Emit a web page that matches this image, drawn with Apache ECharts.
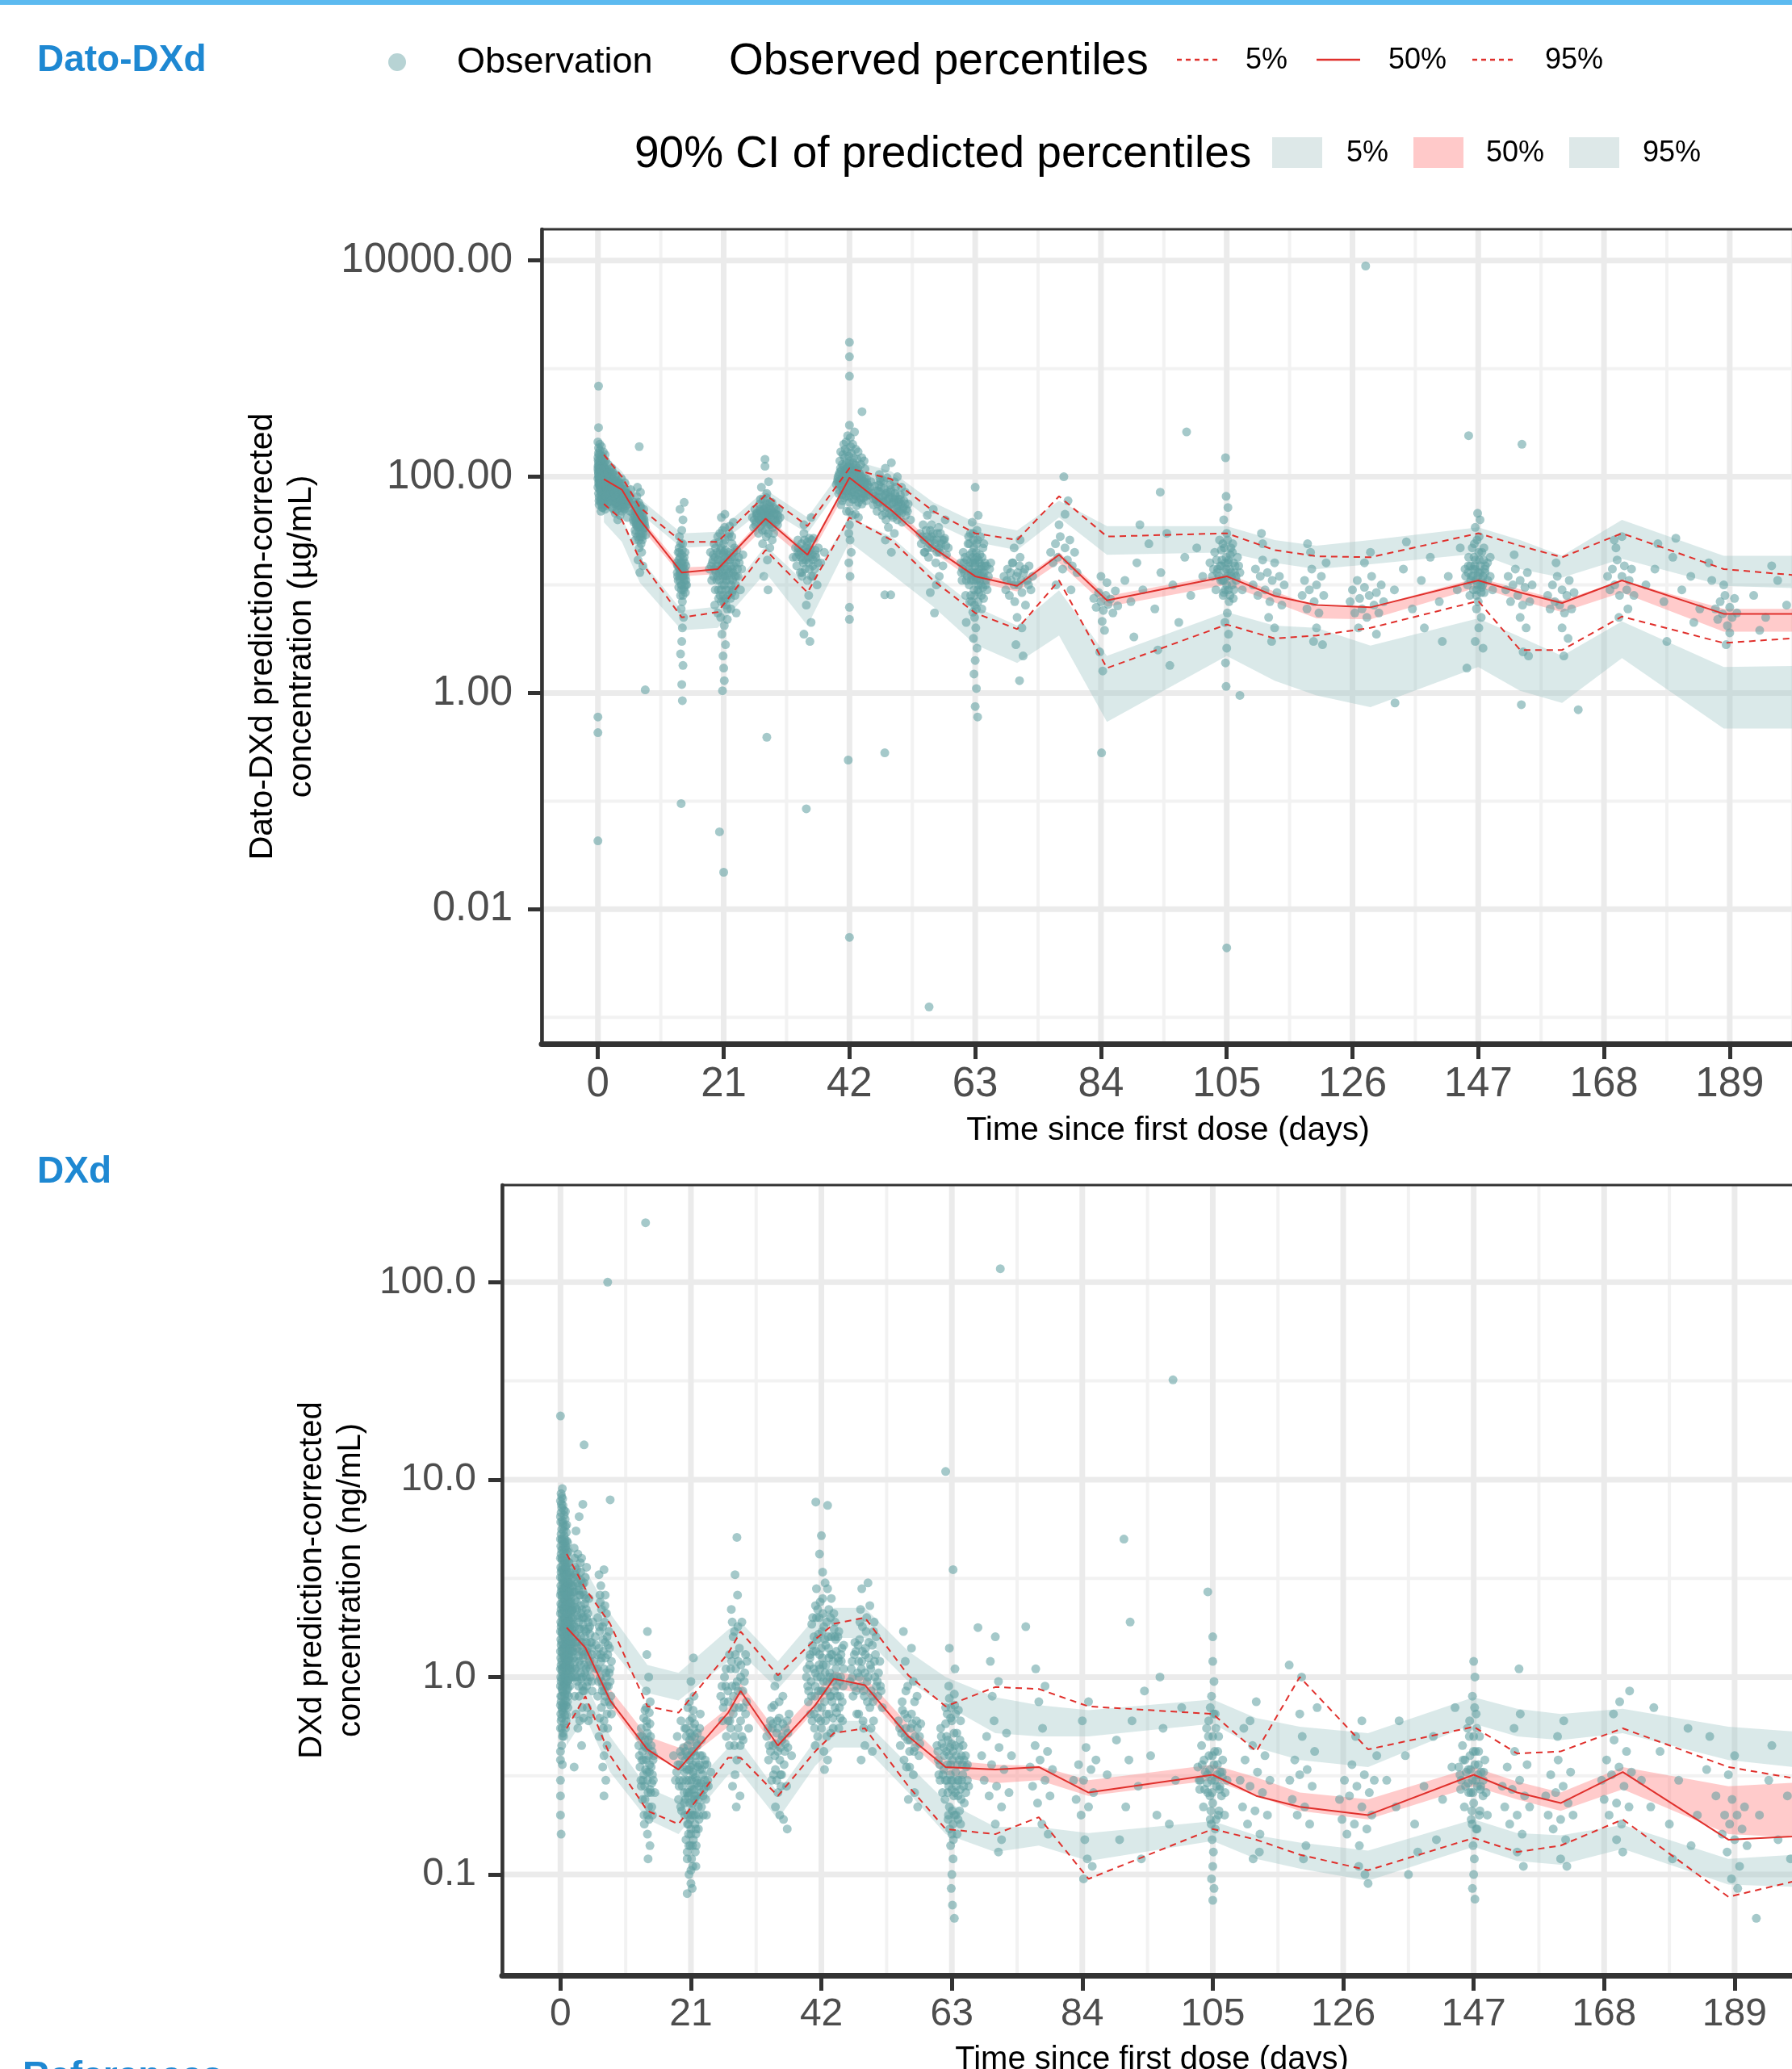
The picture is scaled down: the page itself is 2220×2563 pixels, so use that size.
<!DOCTYPE html>
<html>
<head>
<meta charset="utf-8">
<title>Dato-DXd / DXd prediction-corrected VPC</title>
<script src="https://cdn.jsdelivr.net/npm/echarts@6.0.0/dist/echarts.min.js"></script>
<style>
html,body{margin:0;padding:0;background:#fff;}
#chart{width:2220px;height:2563px;}
</style>
</head>
<body>
<div id="chart"></div>
<script>
// ---- axes ----
var xTicks = [0, 21, 42, 63, 84, 105, 126, 147, 168, 189];
var xMinor = [10.5, 31.5, 52.5, 73.5, 94.5, 115.5, 136.5, 157.5, 178.5, 199.5];
var X_MIN = -9.4, X_MAX = 199.8;

var datoTicks = [0.01, 1, 100, 10000];
var datoMinor = [0.001, 0.1, 10, 1000];
var datoRange = [-3.244, 4.289];   // log10 limits of the panel
var dxdTicks = [0.1, 1, 10, 100];
var dxdMinor = [0.3162, 3.162, 31.62];
var dxdRange = [-1.511, 2.492];

// ---- Dato-DXd (ug/mL): bins and percentiles ----
var datoBins   = [1, 4, 7, 14, 20, 28, 35, 42, 49, 56, 63, 70, 77, 85, 105, 113, 120, 129, 147, 154, 161, 171, 188, 206];
var datoObs5   = [56, 40, 17, 5.0, 5.6, 21, 8.5, 42, 26, 11, 5.5, 3.9, 11, 1.7, 4.3, 3.2, 3.4, 4.0, 7.1, 2.5, 2.5, 5.1, 2.9, 3.4];
var datoObs50  = [95, 76, 40, 13, 14, 41, 19, 98, 49, 22, 12, 9.8, 19, 7.2, 12, 7.9, 6.5, 6.2, 11, 8.5, 6.8, 11, 5.4, 5.4];
var datoObs95  = [160, 100, 52, 25, 25, 68, 35, 120, 95, 48, 30, 26, 66, 28, 30, 21, 18.4, 18, 30, 23, 18, 30, 14, 11.5];
var datoPi5Lo  = [38, 25, 10.5, 3.8, 4.0, 13, 4.2, 25, 12.6, 6.3, 2.8, 1.9, 3.4, 0.54, 2.2, 1.3, 0.95, 0.74, 1.74, 1.05, 0.81, 2.1, 0.47, 0.47];
var datoPi5Hi  = [60, 42, 17.8, 5.8, 6.3, 23, 10, 42, 28, 12.6, 6.3, 4.2, 8.9, 2.2, 5.6, 4.2, 4.0, 2.75, 4.9, 3.3, 2.2, 4.6, 1.74, 1.8];
var datoPi50Lo = [85, 68, 35, 12, 12.6, 35, 16.6, 83, 44, 20, 10.7, 8.7, 16, 6.3, 10, 6.9, 4.9, 4.8, 9.5, 7.2, 5.6, 8.5, 3.7, 3.7];
var datoPi50Hi = [100, 79, 43, 14.5, 15, 44, 20, 102, 54, 24.5, 12.9, 10.5, 20, 7.9, 12.6, 8.7, 6.3, 6.2, 11.7, 9.1, 7.2, 11, 6.0, 6.0];
var datoPi95Lo = [112, 79, 46, 22, 23, 52, 30, 105, 76, 38, 25, 21, 42, 19, 20, 16, 14, 15.5, 19.5, 14, 11.7, 17.4, 9.8, 9.1];
var datoPi95Hi = [160, 112, 63, 30, 31, 76, 42, 145, 112, 58, 38, 32, 60, 35, 35, 26, 23, 26, 34, 26, 18.6, 40, 18.6, 18.6];

// ---- DXd (ng/mL): bins and percentiles ----
var dxdBins   = [1, 4, 8, 14, 19, 27, 29, 35, 41, 44, 49, 56, 62, 70, 77, 85, 105, 112, 119, 130, 147, 154, 161, 171, 188, 206];
var dxdObs5   = [0.55, 0.80, 0.40, 0.21, 0.18, 0.39, 0.39, 0.25, 0.42, 0.52, 0.55, 0.28, 0.17, 0.16, 0.195, 0.095, 0.17, 0.15, 0.126, 0.105, 0.153, 0.13, 0.14, 0.19, 0.077, 0.105];
var dxdObs50  = [1.78, 1.41, 0.76, 0.43, 0.34, 0.66, 0.85, 0.45, 0.72, 0.98, 0.91, 0.50, 0.35, 0.34, 0.35, 0.26, 0.32, 0.25, 0.22, 0.20, 0.32, 0.26, 0.23, 0.33, 0.15, 0.16];
var dxdObs95  = [4.2, 2.8, 1.86, 0.71, 0.66, 1.32, 1.7, 1.02, 1.55, 1.86, 2.0, 1.02, 0.71, 0.89, 0.87, 0.71, 0.65, 0.42, 1.0, 0.43, 0.56, 0.41, 0.42, 0.55, 0.35, 0.28];
var dxdPi5Lo  = [0.45, 0.63, 0.33, 0.19, 0.16, 0.32, 0.33, 0.19, 0.355, 0.44, 0.44, 0.26, 0.16, 0.13, 0.14, 0.117, 0.148, 0.12, 0.107, 0.093, 0.138, 0.117, 0.112, 0.135, 0.089, 0.085];
var dxdPi5Hi  = [0.71, 0.95, 0.50, 0.275, 0.235, 0.44, 0.47, 0.26, 0.48, 0.60, 0.60, 0.36, 0.235, 0.174, 0.174, 0.162, 0.186, 0.158, 0.145, 0.132, 0.19, 0.162, 0.158, 0.178, 0.12, 0.13];
var dxdPi50Lo = [1.51, 1.2, 0.72, 0.40, 0.355, 0.56, 0.76, 0.42, 0.68, 0.87, 0.83, 0.47, 0.32, 0.29, 0.30, 0.25, 0.30, 0.25, 0.21, 0.19, 0.28, 0.24, 0.21, 0.27, 0.16, 0.15];
var dxdPi50Hi = [1.9, 1.51, 0.87, 0.50, 0.44, 0.70, 0.93, 0.52, 0.83, 1.07, 1.0, 0.575, 0.38, 0.36, 0.355, 0.30, 0.36, 0.31, 0.26, 0.24, 0.35, 0.295, 0.26, 0.35, 0.28, 0.30];
var dxdPi95Lo = [3.2, 2.3, 1.41, 0.83, 0.76, 1.2, 1.32, 0.87, 1.41, 1.58, 1.58, 0.95, 0.72, 0.52, 0.50, 0.50, 0.58, 0.44, 0.38, 0.35, 0.58, 0.50, 0.48, 0.52, 0.38, 0.33];
var dxdPi95Hi = [5.0, 3.5, 2.1, 1.15, 1.05, 1.74, 1.9, 1.2, 2.0, 2.24, 2.24, 1.35, 1.0, 0.79, 0.72, 0.68, 0.77, 0.62, 0.56, 0.52, 0.79, 0.69, 0.65, 0.69, 0.56, 0.51];

// ---- observations [day, concentration] ----
var datoPoints = [
 [0,150],[0,118],[0,96],[0,80],[0.1,135],[0.1,105],[0.1,88],[0.1,70],[0.2,160],[0.2,125],[0.2,100],[0.2,84],[0.2,65],[0.3,140],[0.3,112],[0.3,92],[0.3,76],[0.4,130],[0.4,98],[0.4,82],[0.4,60],[0.5,145],[0.5,108],[0.5,90],[0.5,72],[0.6,120],[0.6,95],[0.6,78],[0.6,56],[0.7,132],[0.7,102],[0.7,86],[0.7,68],[0.8,115],[0.8,92],[0.8,74],[0.9,126],[0.9,99],[0.9,80],[0.9,62],[1.0,110],[1.0,88],[1.0,70],[1.1,118],[1.1,94],[1.1,76],[1.2,104],[1.2,84],[1.2,64],[1.3,112],[1.3,90],[1.3,72],[1.4,98],[1.4,78],[1.5,106],[1.5,86],[1.5,66],[1.6,92],[1.6,74],[0.1,185],[0.3,175],[0,210],[0.1,285],[0.1,690],[0.5,48],[0.8,52],[1.2,50],[0,0.6],[0,0.43],[0,0.043],
 [2.0,96],[2.0,74],[2.2,86],[2.2,64],[2.4,92],[2.4,70],[2.6,80],[2.6,60],[2.8,88],[2.8,68],[3.0,76],[3.0,56],[3.2,84],[3.2,65],[3.4,72],[3.4,54],[3.6,80],[3.6,62],[3.8,70],[3.8,52],[4.0,78],[4.0,58],[4.2,66],[4.4,74],[4.4,50],[4.6,62],[4.8,70],[5.0,56],[5.2,64],[5.4,48],[2.5,110],[3.1,104],[3.9,96],[4.5,88],[2.9,46],[3.7,44],[4.9,42],[5.5,76],[2.3,120],[3.3,40],
 [5.8,46],[6.0,38],[6.0,55],[6.2,42],[6.2,32],[6.4,50],[6.4,36],[6.6,44],[6.6,28],[6.8,40],[6.8,58],[7.0,34],[7.0,46],[7.2,30],[7.2,52],[7.4,38],[7.4,26],[7.6,42],[7.6,33],[7.8,36],[8.0,29],[6.5,66],[7.1,72],[6.9,22],[7.3,20],[6.7,17],[7.5,15],[7.0,13],[6.6,80],[6.9,190],[7.9,1.07],[7.2,24],
 [13.2,16],[13.3,12],[13.4,20],[13.5,9.5],[13.6,14],[13.7,18],[13.7,11],[13.8,24],[13.8,8],[13.9,13],[14.0,16],[14.0,10],[14.1,21],[14.1,7],[14.2,12],[14.2,15],[14.3,9],[14.4,18],[14.4,11],[14.5,13],[14.6,8.5],[14.7,15],[14.8,10],[13.6,28],[14.0,32],[14.2,40],[13.9,6],[14.3,5],[14.1,4],[14.0,3],[13.8,2.3],[14.2,1.8],[14.0,1.2],[14.1,0.85],[13.9,0.095],[13.7,50],[14.4,58],
 [18.6,14],[18.8,20],[19.0,11],[19.2,17],[19.4,24],[19.6,9],[19.8,15],[20.0,12],[20.0,28],[20.2,19],[20.4,8],[20.4,14],[20.6,22],[20.8,10],[20.8,32],[21.0,16],[21.0,7],[21.2,12],[21.2,26],[21.4,18],[21.4,9],[21.6,14],[21.6,6],[21.8,20],[22.0,11],[22.0,35],[22.2,15],[22.4,8.5],[22.4,24],[22.6,13],[22.8,18],[23.0,10],[23.2,21],[23.4,12],[23.6,16],[23.8,9],[24.0,14],[24.2,19],[20.5,5],[21.1,4.2],[20.7,3.5],[21.3,2.8],[20.9,2.2],[21.0,1.7],[21.1,1.3],[20.8,1.05],[21.2,45],[20.6,42],[22.6,38],[20.3,0.052],[21.0,0.022],[19.5,6.5],[23.1,5.5],
 [25.8,42],[26.0,34],[26.2,50],[26.4,38],[26.6,46],[26.8,30],[27.0,56],[27.0,40],[27.2,35],[27.4,48],[27.6,62],[27.6,38],[27.8,44],[28.0,52],[28.0,32],[28.2,70],[28.2,40],[28.4,46],[28.6,36],[28.8,58],[28.8,42],[29.0,48],[29.2,34],[29.4,52],[29.6,40],[29.8,45],[30.0,36],[30.2,50],[30.4,42],[27.3,80],[28.5,90],[27.9,145],[27.9,125],[28.1,28],[27.5,24],[28.7,22],[28.3,17],[27.7,12],[28.4,9],[28.2,0.39],[29.1,26],
 [32.6,18],[33.0,22],[33.2,15],[33.4,26],[33.6,19],[33.8,13],[34.0,24],[34.2,17],[34.4,30],[34.6,14],[34.8,20],[35.0,11],[35.0,25],[35.2,16],[35.4,22],[35.6,12],[35.8,19],[36.0,27],[36.2,14],[36.4,18],[36.6,10],[36.8,22],[37.2,16],[37.8,20],[34.4,36],[35.6,42],[35.2,8],[34.8,6.5],[35.6,4.5],[34.4,3.5],[35.4,3],[34.8,0.085],
 [40.0,90],[40.2,70],[40.4,110],[40.6,82],[40.8,130],[40.8,60],[41.0,100],[41.0,76],[41.2,150],[41.2,88],[41.4,118],[41.4,66],[41.6,96],[41.6,170],[41.8,80],[41.8,125],[42.0,105],[42.0,140],[42.0,58],[42.2,92],[42.2,190],[42.4,115],[42.4,72],[42.6,98],[42.6,135],[42.8,84],[42.8,62],[43.0,110],[43.0,78],[43.2,95],[43.2,54],[43.4,120],[43.4,70],[43.6,88],[43.8,102],[43.8,64],[44.0,80],[44.2,92],[44.4,70],[44.6,86],[44.8,60],[45.0,75],[45.2,68],[41.5,48],[42.5,44],[43.5,42],[42.0,36],[41.9,30],[42.1,26],[42.3,20],[41.7,240],[42.0,300],[44.1,400],[42.0,850],[42.0,1290],[42.0,1750],[41.8,0.24],[42.0,0.0055],[42.0,6.2],[42.0,4.8],[42.1,12],[41.9,16],
 [45.8,70],[46.0,55],[46.2,82],[46.4,62],[46.6,48],[46.8,74],[47.0,58],[47.2,90],[47.4,52],[47.6,66],[47.8,78],[48.0,46],[48.2,60],[48.4,72],[48.6,54],[48.8,84],[49.0,44],[49.2,64],[49.4,50],[49.6,70],[49.8,58],[50.0,40],[50.2,62],[50.4,48],[50.6,56],[50.8,38],[51.0,52],[51.4,44],[51.8,56],[52.2,40],[47.0,105],[48.0,120],[49.0,135],[50.0,100],[48.5,34],[49.5,30],[48.0,26],[49.0,20],[47.9,0.28],[47.9,8.1],[48.9,8.1],
 [53.8,30],[54.0,24],[54.3,36],[54.6,20],[54.9,28],[55.2,18],[55.5,32],[55.8,22],[56.1,26],[56.4,16],[56.7,30],[57.0,20],[57.3,24],[57.6,15],[57.9,27],[58.2,19],[58.5,22],[55.0,44],[56.0,50],[57.0,12],[56.5,10],[55.5,8.5],[58.0,40],[55.3,0.00125],[56.2,5.5],
 [60.6,16],[60.8,11],[61.0,20],[61.2,13],[61.4,8],[61.6,17],[61.8,24],[62.0,10],[62.0,14],[62.2,30],[62.4,12],[62.4,7],[62.6,18],[62.8,9],[62.8,22],[63.0,13],[63.0,16],[63.2,6],[63.2,11],[63.4,26],[63.6,14],[63.6,8.5],[63.8,19],[64.0,10],[64.2,13],[64.4,7.5],[64.6,16],[64.8,11],[65.0,9],[65.4,14],[62.5,38],[63.5,44],[62.9,5],[63.1,4],[62.7,3.2],[63.3,2.6],[63.0,2],[62.8,1.5],[63.2,1.1],[63.0,0.75],[63.4,0.6],[62.6,5.6],[61.5,4.5],[63,80],
 [67.8,12],[68.1,9],[68.4,14],[68.7,8],[69.0,11],[69.3,16],[69.6,7],[69.9,12],[70.2,10],[70.5,18],[70.8,8.5],[71.1,13],[71.4,6.5],[71.7,11],[72.0,15],[72.3,9],[72.6,12],[69.5,22],[70.5,26],[70.0,5],[70.8,4],[69.8,2.8],[71.0,2.2],[70.4,1.3],
 [75.6,20],[76.0,16],[76.4,24],[76.8,18],[77.2,28],[77.6,14],[78.0,22],[78.4,17],[78.8,26],[79.2,15],[79.6,20],[80.0,13],[77.0,36],[78.0,45],[78.5,60],[76.5,10],[79.0,9],[77.8,100],
 [82.8,7.5],[83.2,6.2],[83.6,8.5],[84.0,7],[84.4,5.8],[84.8,8],[85.2,6.6],[85.6,7.4],[86.0,5.5],[86.4,8.8],[86.8,6.4],[84.2,4.6],[85.0,10.5],[84.6,3.8],[84.0,12],[83.8,2.4],[84.1,0.28],[84.3,1.6],
 [88,11],[89,7],[90,16],[91,9],[92,24],[93,6],[94,13],[95,30],[96,10],[97,4.5],[98,18],[99,8],[100,22],[101,12],[90.5,36],[93.5,2.5],[98.3,260],[95.5,1.8],[89.5,3.3],[93.9,72],
 [102.2,16],[102.6,12],[103.0,20],[103.2,9],[103.5,14],[103.8,26],[104.0,11],[104.2,17],[104.4,8],[104.6,22],[104.8,13],[105.0,30],[105.0,10],[105.2,16],[105.4,7],[105.6,19],[105.8,12],[106.0,24],[106.2,9],[106.4,15],[106.6,11],[106.8,18],[107.2,13],[107.6,9],[104.5,40],[105.2,52],[104.9,66],[105.1,5.5],[104.7,4.5],[105.3,3.5],[105.0,2.6],[104.8,1.9],[104.9,1.15],[107.2,0.95],[105.0,0.0044],[104.8,150],
 [109.4,10],[109.8,14],[110.2,8],[110.6,12],[111.0,17],[111.4,9],[111.8,13],[112.2,7],[112.6,11],[113.0,16],[113.4,8.5],[113.8,12],[114.2,6.5],[114.6,10],[111.0,24],[112.0,5],[113.0,4],[110.8,30],[112.5,3],
 [117.6,8],[118.0,11],[118.4,6],[118.8,9],[119.2,14],[119.6,7],[120.0,10],[120.4,5.5],[120.8,12],[121.2,8],[121.6,16],[119.0,20],[120.0,4],[119.5,3],[118.5,24],[121.0,2.8],
 [125.6,7],[126.0,9],[126.4,5.5],[126.8,11],[127.2,7.5],[127.6,6],[128.0,9.5],[128.4,5],[128.8,8],[129.2,12],[129.6,6.5],[130.0,8.5],[130.4,5.5],[130.8,10],[131.2,7],[128.0,16],[129.0,20],[127.0,4],[130.0,3.5],[128.2,8900],
 [133,9],[134.5,14],[136,6],[137.5,11],[139,18],[140.5,7],[142,12],[143.5,9],[135,25],[138,4],[141,3],[144,22],[133.1,0.81],
 [144.8,14],[145.2,10],[145.4,18],[145.6,8],[145.8,12],[146.0,22],[146.2,9],[146.4,15],[146.6,11],[146.8,26],[147.0,13],[147.0,7],[147.2,17],[147.4,10],[147.6,20],[147.8,12],[148.0,8.5],[148.2,15],[148.6,11],[149.0,18],[149.4,9],[146.5,34],[147.3,40],[146.9,46],[146.7,6],[147.5,5],[147.1,4],[146.5,3],[147.8,2.6],[145.1,1.7],[145.4,240],
 [151.6,9],[152.0,12],[152.4,7],[152.8,10],[153.2,14],[153.6,8],[154.0,11],[154.4,6.5],[154.8,9.5],[155.2,13],[155.6,7],[156.0,10],[153.0,19],[154.0,5],[155.0,4],[154.5,2.4],[154.3,200],[154.2,0.78],[155.4,2.2],
 [158.6,8],[159.0,6],[159.4,10],[159.8,7],[160.2,12],[160.6,6.5],[161.0,9],[161.4,5.5],[161.8,8],[162.2,11],[162.6,6],[163.0,8.5],[160.0,16],[161.0,4],[162.0,3.2],[161.3,2.2],[163.7,0.7],
 [168.6,12],[169.0,9],[169.4,14],[169.8,10],[170.2,17],[170.6,8],[171.0,12],[171.4,15],[171.8,9],[172.2,11],[172.6,14],[173.0,8],[170.0,22],[171.0,28],[172.0,6],[170.5,5],[169.7,26],
 [175,10],[176.5,14],[178,7],[179.5,18],[181,9],[182.5,12],[184,6],[185.5,16],[177,24],[180,27],[183,4.5],[186,11],[178.5,3],
 [186.6,6],[187.0,4.8],[187.4,7],[187.8,5.4],[188.2,8],[188.6,4.2],[189.0,6.2],[189.4,5],[189.8,7.5],[190.2,5.5],[188.0,10],[189.0,3.6],[188.4,2.8],
 [193,8],[195,5],[197,11],[198.5,6.5],[196,15],[194,3.8]
];
// denser cores of the main sampling visits
var datoCore = [
 [0.05,142],[0.15,128],[0.25,116],[0.35,104],[0.45,94],[0.55,86],[0.65,78],[0.75,71],[0.85,64],[0.95,58],[0.05,112],[0.15,99],[0.25,89],[0.35,81],[0.45,74],[0.55,67],[0.65,61],[0.75,155],[0.85,138],[0.95,122],[1.05,107],[1.15,97],[1.25,87],[1.35,79],[1.45,71],[1.55,64],[1.65,58],[1.75,100],[1.85,88],[1.95,78],[1.05,135],[1.15,122],[1.25,68],[1.35,62],[1.45,115],[1.55,104],[1.65,95],[1.75,69],[1.85,62],[1.95,110],[0.3,200],[0.6,190],[0.9,170],[1.2,160],[0.2,55],[0.7,52],[1.0,60],[1.4,54],[1.7,82],[1.9,96],
 [2.1,82],[2.3,74],[2.5,66],[2.7,76],[2.9,58],[3.1,70],[3.3,62],[3.5,88],[3.7,66],[3.9,58],[4.1,72],[4.3,60],[4.5,68],[4.7,54],[4.9,64],[2.2,100],[2.6,94],[3.0,90],[3.4,82],[3.8,78],[4.2,82],[4.6,76],[5.0,70],[5.3,58],[2.4,52],[2.8,56],[3.2,50],[3.6,54],[4.0,48],[4.4,56],
 [6.1,48],[6.3,40],[6.5,35],[6.7,48],[6.9,44],[7.1,38],[7.3,43],[7.5,30],[7.7,40],[7.9,34],[6.3,30],[6.7,34],[7.1,28],[7.5,46],[6.1,58],[6.5,42],[7.3,36],[6.9,30],
 [13.3,15],[13.5,17],[13.7,13],[13.9,10],[14.1,14],[14.3,12],[14.5,16],[14.7,11],[13.4,11],[13.6,20],[14.0,19],[14.4,9.5],[14.6,12],[13.8,16],[14.2,8],
 [19.1,16],[19.3,12],[19.5,18],[19.7,13],[19.9,20],[20.1,9],[20.1,15],[20.3,11],[20.5,17],[20.7,13],[20.9,19],[21.1,10],[21.1,14],[21.3,21],[21.5,12],[21.7,17],[21.9,9],[22.1,13],[22.3,18],[22.5,11],[22.7,15],[22.9,8],[23.1,12],[20.2,25],[21.0,24],[21.8,28],[20.6,7],[21.4,6.5],[22.2,6],[20.0,5.5],[21.6,4.8],[22.8,22],
 [26.5,44],[26.9,40],[27.3,46],[27.7,50],[28.1,42],[28.3,48],[28.5,38],[28.7,46],[28.9,36],[29.3,44],[29.7,50],[27.1,48],[27.9,38],[28.6,54],[26.3,36],[30.1,40],
 [33.4,20],[33.9,18],[34.3,21],[34.7,17],[35.1,20],[35.5,18],[35.9,15],[36.3,21],[34.1,13],[35.3,14],[34.9,23],[35.7,26],
 [40.1,100],[40.3,85],[40.5,120],[40.7,95],[40.9,75],[41.1,112],[41.3,92],[41.5,135],[41.7,106],[41.9,88],[42.1,120],[42.3,100],[42.5,82],[42.7,112],[42.9,95],[43.1,128],[43.3,86],[43.5,104],[43.7,80],[43.9,92],[44.1,70],[44.3,84],[44.5,98],[44.7,74],[44.9,88],[40.4,140],[40.9,160],[41.3,180],[41.9,155],[42.3,165],[42.7,150],[43.3,145],[43.9,130],[44.6,118],[41.1,64],[41.7,70],[42.1,75],[42.5,62],[42.9,68],[43.5,58],[44.1,56],[40.6,55],[42.0,48],[43.0,45],[45.4,80],[45.6,90],
 [46.3,66],[46.7,56],[47.1,72],[47.5,60],[47.9,68],[48.3,52],[48.7,64],[49.1,56],[49.5,62],[49.9,52],[50.3,58],[50.7,46],[51.1,60],[51.5,50],[46.9,84],[47.7,92],[48.9,76],[49.7,80],[50.5,68],[51.3,72],[48.1,40],[49.3,42],[50.1,48],
 [54.5,26],[55.1,22],[55.7,28],[56.3,24],[56.9,22],[57.5,26],[58.1,23],[55.4,27],[56.6,20],[57.2,30],
 [60.9,14],[61.3,18],[61.7,12],[62.1,16],[62.3,11],[62.5,20],[62.7,13],[62.9,17],[63.1,12],[63.3,18],[63.5,10],[63.7,16],[63.9,12],[64.1,15],[64.3,9.5],[64.5,13],[64.9,15],[62.1,7],[62.9,6.5],[63.5,7],[64.1,6],[61.9,28],[62.7,26],[63.3,32],[64.3,22],
 [103.4,13],[103.9,15],[104.3,11],[104.7,16],[105.1,12],[105.5,14],[105.9,10],[106.3,13],[104.1,21],[104.9,18],[105.7,22],[104.5,8.5],[105.3,9],[106.1,7.5],
 [145.3,13],[145.7,15],[146.1,12],[146.5,14],[146.9,10],[147.3,13],[147.7,11],[148.1,14],[146.3,18],[147.1,20],[147.9,17],[146.7,8],[147.5,8.5],
 [0.02,125],[0.12,108],[0.22,94],[0.32,85],[0.42,118],[0.52,100],[0.62,88],[0.72,112],[0.82,97],[0.92,85],[1.02,120],[1.12,102],[1.22,92],[1.32,84],[1.42,90],[1.52,78],[1.62,108],[1.72,90],[1.82,76],[1.92,68],[2.02,84],[2.12,72],[2.32,80],[2.52,86],[2.72,70],[2.92,80],[3.12,62],[3.32,74],[3.52,68],[3.72,76],[3.92,64],[4.12,70],[4.32,66],[4.52,60],[4.72,70],[0.08,165],[0.48,158],[0.88,148],[1.28,140],[1.68,130],[2.08,118],[2.48,106],[2.88,100],[3.28,92],[3.68,88],[0.18,60],[0.58,62],[0.98,56],[1.38,66],[1.78,58],[2.18,60],[2.58,50],[2.98,64],[3.38,58],[3.78,60],[4.18,52],[4.58,50],[5.1,60],[5.4,66],
 [5.9,40],[6.15,44],[6.35,38],[6.55,46],[6.75,36],[6.95,42],[7.15,36],[7.35,40],[7.55,34],[7.75,38],[6.25,26],[6.85,26],[7.45,28],[6.45,56],[7.05,54],[7.65,50],
 [13.25,13],[13.45,15],[13.65,12],[13.85,14],[14.05,12],[14.25,17],[14.45,14],[14.65,10],[13.55,22],[14.15,24],[14.55,20],[13.95,9],
 [18.9,15],[19.25,19],[19.45,14],[19.65,22],[19.85,11],[20.05,17],[20.25,13],[20.45,21],[20.65,16],[20.85,12],[21.05,20],[21.25,15],[21.45,11],[21.65,19],[21.85,13],[22.05,17],[22.25,10],[22.45,14],[22.65,20],[22.85,12],[23.05,16],[23.3,14],[23.5,18],[20.15,7.5],[20.55,9],[20.95,8],[21.35,7.5],[21.75,8],[22.15,7.5],[22.55,9],[20.35,30],[21.15,34],[21.95,30],[22.35,28],
 [26.1,40],[26.45,46],[26.75,42],[27.05,50],[27.35,42],[27.65,54],[27.95,46],[28.25,56],[28.55,44],[28.85,50],[29.15,40],[29.45,46],[29.75,38],[30.05,44],[27.15,62],[28.15,64],[29.05,58],[27.45,32],[28.45,30],[29.35,30],
 [33.1,18],[33.5,22],[33.9,20],[34.3,16],[34.7,22],[35.1,18],[35.5,21],[35.9,17],[36.3,19],[36.7,16],[34.5,26],[35.3,27],[34.1,12],[35.9,12],
 [39.8,85],[40.05,95],[40.25,105],[40.45,92],[40.65,115],[40.85,98],[41.05,125],[41.25,108],[41.45,90],[41.65,118],[41.85,100],[42.05,130],[42.25,110],[42.45,95],[42.65,122],[42.85,104],[43.05,90],[43.25,115],[43.45,97],[43.65,108],[43.85,86],[44.05,100],[44.25,78],[44.45,90],[44.65,76],[44.85,96],[45.05,84],[45.25,72],[40.35,75],[40.75,68],[41.15,80],[41.55,74],[41.95,66],[42.35,84],[42.75,72],[43.15,66],[43.55,76],[43.95,62],[44.35,64],[44.75,66],[40.55,170],[41.05,200],[41.45,210],[42.15,230],[42.55,200],[43.05,180],[43.45,170],[44.05,150],[44.45,140],[42.85,260],
 [46.1,62],[46.5,74],[46.9,64],[47.3,80],[47.7,58],[48.1,70],[48.5,62],[48.9,72],[49.3,58],[49.7,66],[50.1,54],[50.5,62],[50.9,50],[51.3,56],[51.7,48],[47.1,96],[48.3,98],[49.5,90],[50.7,80],[47.5,44],[48.7,46],[49.9,44],
 [54.2,28],[54.8,32],[55.4,24],[56.0,30],[56.6,26],[57.2,22],[57.8,26],[55.7,36],[56.9,34],[54.5,20],
 [60.7,13],[61.1,16],[61.5,11],[61.9,15],[62.15,19],[62.35,13],[62.55,16],[62.75,11],[62.95,15],[63.15,20],[63.35,13],[63.55,17],[63.75,11],[63.95,14],[64.15,18],[64.35,12],[64.55,15],[64.75,10],[65.2,12],[65.6,16],[62.05,24],[62.65,30],[63.25,24],[63.85,28],[64.45,24],[62.25,8],[62.85,8],[63.45,9],[64.05,8],
 [68.3,11],[68.9,13],[69.5,10],[70.1,13],[70.7,11],[71.3,14],[71.9,10],[69.2,16],[70.4,15],
 [102.8,14],[103.3,17],[103.7,12],[104.15,15],[104.55,11],[104.95,14],[105.35,17],[105.75,13],[106.15,16],[106.55,12],[107.0,15],[104.35,24],[105.15,26],[105.95,20],[104.75,9],[105.55,8],
 [144.9,12],[145.35,15],[145.75,11],[146.15,14],[146.55,17],[146.95,12],[147.35,15],[147.75,10],[148.15,13],[148.55,16],[149.0,12],[146.35,24],[147.15,28],[147.95,22],[146.75,9],[147.55,9.5]
];

var dxdPoints = [
 [0,6.5],[0,5],[0,4],[0,3.2],[0,2.6],[0,2.1],[0,1.7],[0,1.35],[0,1.1],[0,0.9],[0,0.72],[0,0.55],[0,0.42],[0,0.3],[0,0.2],[0.2,7.2],[0.2,5.6],[0.2,4.4],[0.2,3.5],[0.2,2.8],[0.2,2.3],[0.2,1.85],[0.2,1.5],[0.2,1.2],[0.2,0.98],[0.2,0.8],[0.2,0.62],[0.4,6],[0.4,4.7],[0.4,3.7],[0.4,3],[0.4,2.4],[0.4,1.95],[0.4,1.6],[0.4,1.28],[0.4,1.02],[0.4,0.84],[0.4,0.66],[0.6,5.2],[0.6,4.1],[0.6,3.3],[0.6,2.65],[0.6,2.15],[0.6,1.75],[0.6,1.4],[0.6,1.12],[0.6,0.92],[0.6,0.7],[0.8,5.8],[0.8,4.5],[0.8,3.6],[0.8,2.9],[0.8,2.35],[0.8,1.9],[0.8,1.52],[0.8,1.22],[0.8,0.97],[0.8,0.76],[1.0,4.9],[1.0,3.9],[1.0,3.1],[1.0,2.5],[1.0,2.0],[1.0,1.62],[1.0,1.3],[1.0,1.05],[1.0,0.82],[1.2,4.3],[1.2,3.4],[1.2,2.7],[1.2,2.2],[1.2,1.78],[1.2,1.42],[1.2,1.14],[1.2,0.88],[1.4,3.8],[1.4,3.0],[1.4,2.4],[1.4,1.95],[1.4,1.56],[1.4,1.25],[1.4,0.98],[1.6,3.3],[1.6,2.6],[1.6,2.1],[1.6,1.7],[1.6,1.36],[1.6,1.08],[1.8,2.9],[1.8,2.3],[1.8,1.85],[1.8,1.48],[0.1,8.5],[0.3,9],[0,21],[0.1,0.16],[0,0.25],[0.5,0.5],[0.9,0.6],[0.3,0.36],
 [2.0,3.2],[2.0,2.2],[2.0,1.5],[2.0,1.0],[2.3,4],[2.3,2.7],[2.3,1.8],[2.3,1.2],[2.3,0.8],[2.6,3.5],[2.6,2.4],[2.6,1.6],[2.6,1.1],[2.9,2.9],[2.9,2.0],[2.9,1.35],[2.9,0.9],[3.2,3.8],[3.2,2.6],[3.2,1.75],[3.2,1.15],[3.5,2.2],[3.5,1.5],[3.5,1.0],[3.5,0.7],[3.8,3.0],[3.8,2.0],[3.8,1.3],[3.8,0.85],[4.1,2.5],[4.1,1.7],[4.1,1.1],[4.4,2.1],[4.4,1.4],[4.4,0.95],[4.7,1.8],[4.7,1.2],[5.0,1.5],[2.5,5.5],[3.0,6.5],[3.6,7.5],[4.5,0.6],[2.8,0.55],[3.4,0.45],[3.8,15],[2.2,0.35],[4.2,3.6],
 [5.6,1.6],[5.8,1.1],[6.0,2.0],[6.0,0.8],[6.2,1.4],[6.4,1.0],[6.4,2.4],[6.6,0.7],[6.6,1.25],[6.8,1.8],[6.8,0.9],[7.0,1.1],[7.0,0.6],[7.2,1.5],[7.2,0.8],[7.4,2.1],[7.4,1.0],[7.6,0.55],[7.6,1.3],[7.8,0.75],[7.8,1.7],[8.0,0.95],[8.2,0.65],[8.2,1.2],[6.5,2.9],[7.0,3.5],[7.5,0.45],[7.0,0.4],[6.8,0.35],[7.3,0.3],[7.0,0.25],[6.2,0.5],[8.0,7.9],[7.6,100],[6.2,3.3],
 [12.6,0.45],[12.8,0.35],[13.0,0.55],[13.0,0.28],[13.2,0.42],[13.4,0.32],[13.4,0.62],[13.6,0.24],[13.6,0.48],[13.8,0.38],[13.8,0.7],[14.0,0.3],[14.0,0.52],[14.2,0.22],[14.2,0.4],[14.4,0.58],[14.4,0.27],[14.6,0.35],[14.6,0.45],[14.8,0.2],[14.8,0.32],[15.0,0.4],[15.2,0.26],[13.8,0.85],[14.2,1.0],[13.5,0.18],[14.0,0.16],[14.4,0.14],[14.1,0.12],[13.9,1.3],[14.0,1.7],[13.7,200],
 [18.2,0.4],[18.5,0.3],[18.8,0.5],[19.0,0.24],[19.2,0.36],[19.4,0.6],[19.6,0.28],[19.8,0.44],[20.0,0.2],[20.0,0.33],[20.2,0.55],[20.4,0.26],[20.4,0.4],[20.6,0.18],[20.6,0.3],[20.8,0.48],[20.8,0.23],[21.0,0.35],[21.0,0.16],[21.2,0.27],[21.2,0.42],[21.4,0.2],[21.4,0.32],[21.6,0.5],[21.6,0.25],[21.8,0.37],[21.8,0.17],[22.0,0.29],[22.0,0.45],[22.2,0.22],[22.4,0.34],[22.6,0.26],[22.8,0.4],[23.0,0.2],[23.2,0.3],[23.4,0.24],[23.6,0.36],[23.8,0.28],[24.2,0.33],[20.5,0.7],[21.5,0.8],[21.0,0.95],[22.5,0.65],[20.9,0.14],[21.1,0.12],[21.3,0.11],[20.7,0.1],[21.0,0.09],[21.2,0.085],[20.4,0.08],[21.4,1.25],[20.4,0.13],[21.7,0.13],
 [25.8,0.8],[26.1,0.6],[26.4,1.0],[26.7,0.5],[27.0,0.75],[27.2,1.3],[27.4,0.55],[27.6,0.9],[27.8,1.6],[28.0,0.45],[28.0,0.7],[28.2,1.1],[28.4,0.38],[28.6,0.85],[28.8,1.4],[29.0,0.6],[29.2,1.9],[29.4,0.48],[29.6,0.95],[29.8,0.65],[30.0,1.2],[30.3,0.55],[27.5,2.2],[28.5,2.6],[28.1,0.32],[27.7,0.28],[28.9,0.25],[28.3,0.22],[28.4,5.1],[28.1,3.3],
 [33.2,0.5],[33.5,0.38],[33.8,0.6],[34.0,0.3],[34.2,0.45],[34.4,0.72],[34.6,0.34],[34.8,0.52],[35.0,0.26],[35.0,0.42],[35.2,0.62],[35.4,0.32],[35.6,0.48],[35.8,0.8],[36.0,0.36],[36.2,0.55],[36.4,0.28],[36.6,0.44],[36.8,0.65],[37.2,0.4],[34.6,0.22],[35.3,0.2],[35.9,0.19],[35.0,1.0],[34.5,0.9],[36.5,0.17],
 [39.6,1.0],[39.9,0.75],[40.2,1.3],[40.5,0.6],[40.8,1.6],[41.0,0.9],[41.2,2.0],[41.4,0.7],[41.6,1.15],[41.8,2.4],[42.0,0.55],[42.0,1.4],[42.2,0.85],[42.4,1.8],[42.6,1.05],[42.8,0.65],[43.0,2.8],[43.2,1.25],[43.4,0.8],[43.6,1.6],[43.8,0.95],[44.0,2.1],[44.2,0.7],[44.4,1.35],[44.6,1.0],[44.8,1.7],[45.0,0.8],[45.2,1.2],[45.4,0.6],[45.6,1.45],[41.0,0.45],[42.4,0.42],[43.0,0.38],[42.2,3.4],[41.7,4.2],[42.0,5.2],[41.1,7.7],[43.0,7.4],[42.5,0.34],[41.4,0.5],[43.5,0.52],
 [46.8,1.1],[47.1,0.8],[47.4,1.5],[47.7,0.65],[48.0,1.2],[48.2,1.9],[48.4,0.9],[48.6,1.35],[48.8,0.55],[49.0,1.05],[49.2,1.7],[49.4,0.75],[49.6,1.25],[49.8,2.3],[50.0,0.85],[50.2,1.45],[50.4,0.6],[50.6,1.0],[50.8,1.6],[51.1,0.8],[51.4,1.2],[51.8,0.7],[48.5,2.8],[49.5,3.0],[49.0,0.45],[50.2,0.42],[48.4,0.38],
 [54.4,0.6],[54.7,0.45],[55.0,0.75],[55.3,0.38],[55.6,0.55],[55.9,0.9],[56.2,0.42],[56.5,0.65],[56.8,0.32],[57.1,0.5],[57.4,0.8],[57.7,0.4],[58.0,0.58],[55.5,1.2],[56.5,1.4],[57.0,0.26],[56.0,0.24],[55.2,1.7],[57.5,0.22],
 [60.6,0.45],[60.9,0.32],[61.2,0.55],[61.5,0.26],[61.8,0.4],[62.0,0.7],[62.2,0.3],[62.4,0.48],[62.6,0.22],[62.8,0.36],[63.0,0.6],[63.0,0.27],[63.2,0.42],[63.4,0.2],[63.6,0.33],[63.8,0.52],[64.0,0.25],[64.2,0.38],[64.4,0.18],[64.6,0.3],[64.8,0.45],[65.0,0.23],[65.3,0.35],[65.7,0.28],[62.5,0.9],[63.5,1.1],[63.0,0.16],[62.8,0.14],[63.2,0.12],[63.0,0.1],[62.9,0.085],[63.1,0.07],[63.4,0.06],[62.6,1.4],[62.0,11],[63.2,3.5],
 [67.8,0.4],[68.2,0.3],[68.6,0.5],[69.0,0.25],[69.4,0.36],[69.8,0.6],[70.2,0.28],[70.6,0.44],[71.0,0.22],[71.4,0.34],[71.8,0.52],[72.2,0.26],[72.6,0.4],[69.5,0.8],[70.5,0.95],[70.0,0.18],[71.0,0.15],[70.5,0.13],[69.2,1.2],[70.8,117],[67.2,1.78],[70.0,1.6],
 [75.6,0.35],[76.0,0.28],[76.4,0.45],[76.8,0.23],[77.2,0.38],[77.6,0.55],[78.0,0.3],[78.4,0.42],[78.8,0.25],[79.2,0.34],[77.0,0.75],[78.0,0.9],[77.5,0.18],[78.5,0.16],[76.5,1.1],[74.9,1.8],
 [82.6,0.3],[83.0,0.24],[83.4,0.36],[83.8,0.2],[84.2,0.3],[84.6,0.44],[85.0,0.22],[85.4,0.34],[85.8,0.26],[86.2,0.38],[84.0,0.6],[85.0,0.75],[84.4,0.15],[84.8,0.12],[84.2,0.095],[85.6,0.11],
 [88,0.32],[89.5,0.48],[90.7,5],[91,0.22],[92,0.6],[93,0.28],[94,0.85],[95,0.4],[96,0.2],[97,0.55],[98.6,32],[99,0.3],[100,0.7],[90,0.15],[93.5,0.12],[96.5,1.0],[91.5,0.38],[98,0.18],[91.7,1.9],
 [102.6,0.35],[102.9,0.27],[103.2,0.45],[103.5,0.22],[103.8,0.33],[104.0,0.55],[104.2,0.26],[104.4,0.4],[104.6,0.19],[104.8,0.3],[105.0,0.5],[105.0,0.23],[105.2,0.36],[105.4,0.65],[105.4,0.17],[105.6,0.28],[105.8,0.42],[106.0,0.21],[106.2,0.33],[106.4,0.25],[106.6,0.38],[106.9,0.2],[107.3,0.3],[104.8,0.8],[105.2,0.95],[105,1.2],[105,1.6],[104.2,2.7],[104.9,0.15],[105.1,0.13],[105.0,0.11],[104.8,0.095],[105.2,0.085],[105.0,0.074],[104.6,0.7],
 [109.4,0.3],[109.8,0.22],[110.2,0.38],[110.6,0.18],[111.0,0.28],[111.4,0.45],[111.8,0.21],[112.2,0.33],[112.6,0.16],[113.0,0.26],[113.4,0.4],[113.8,0.2],[114.2,0.3],[111.0,0.6],[112.0,0.75],[112.5,0.13],[111.5,0.12],[110.0,0.55],
 [117.4,0.3],[117.8,0.24],[118.2,0.38],[118.6,0.2],[119.0,0.32],[119.4,0.5],[119.8,0.22],[120.2,0.34],[120.6,0.18],[121.0,0.28],[121.4,0.42],[119.0,0.65],[119.3,1.0],[120.0,0.14],[119.6,0.12],[121.8,0.7],[117.3,1.15],
 [125.4,0.24],[125.8,0.19],[126.2,0.3],[126.6,0.16],[127.0,0.25],[127.4,0.36],[127.8,0.18],[128.2,0.28],[128.6,0.14],[129.0,0.22],[129.4,0.32],[129.8,0.17],[130.2,0.26],[130.6,0.2],[131.0,0.3],[128.0,0.5],[129.0,0.6],[128.5,0.11],[129.5,0.1],[130.0,0.09],[131.4,0.4],
 [133,0.3],[134.5,0.22],[136,0.4],[137.5,0.18],[139,0.28],[140.5,0.5],[142,0.24],[143.5,0.35],[135,0.6],[138,0.13],[141,0.15],[144,0.7],[136.5,0.1],
 [144.6,0.35],[144.9,0.27],[145.2,0.45],[145.5,0.22],[145.8,0.33],[146.0,0.55],[146.2,0.26],[146.4,0.4],[146.6,0.19],[146.8,0.3],[147.0,0.5],[147.0,0.23],[147.2,0.36],[147.4,0.65],[147.4,0.17],[147.6,0.28],[147.8,0.42],[148.0,0.21],[148.2,0.33],[148.5,0.25],[148.8,0.38],[149.2,0.2],[146.8,0.8],[147.2,1.0],[147.0,1.2],[146.9,0.14],[147.1,0.12],[147.0,0.1],[146.8,0.085],[147.2,0.075],
 [151.6,0.28],[152.0,0.22],[152.4,0.35],[152.8,0.18],[153.2,0.27],[153.6,0.42],[154.0,0.2],[154.4,0.3],[154.8,0.16],[155.2,0.25],[155.6,0.36],[156.0,0.22],[153.5,0.55],[154.5,0.65],[154.0,0.13],[155.0,0.11],[154.3,1.1],
 [158.6,0.25],[159.0,0.2],[159.4,0.32],[159.8,0.17],[160.2,0.26],[160.6,0.38],[161.0,0.19],[161.4,0.28],[161.8,0.15],[162.2,0.23],[162.6,0.33],[163.0,0.2],[160.5,0.5],[161.5,0.6],[161.0,0.12],[162.0,0.11],
 [167.6,0.3],[168.0,0.24],[168.4,0.38],[168.8,0.2],[169.2,0.32],[169.6,0.48],[170.0,0.23],[170.4,0.35],[170.8,0.18],[171.2,0.28],[171.6,0.42],[172.0,0.22],[172.4,0.33],[169.5,0.65],[170.5,0.75],[170.0,0.15],[171.0,0.13],[172.1,0.85],
 [174,0.3],[175.5,0.22],[177,0.42],[178.5,0.18],[180,0.3],[181.5,0.55],[183,0.2],[184.5,0.34],[186,0.25],[176,0.7],[182,0.14],[179,0.12],[185,0.5],
 [187.0,0.16],[187.4,0.2],[187.8,0.13],[188.2,0.18],[188.6,0.24],[189.0,0.15],[189.4,0.2],[189.8,0.11],[190.2,0.17],[190.6,0.22],[188.0,0.32],[189.0,0.4],[188.5,0.095],[189.5,0.085],[191.0,0.14],
 [193,0.2],[194.5,0.3],[196,0.15],[197.5,0.25],[192.5,0.06],[195,0.45],[198,0.12]
];
var dxdCore = [
 [0.1,6.8],[0.1,5.3],[0.1,4.2],[0.1,3.4],[0.1,2.7],[0.1,2.2],[0.1,1.8],[0.1,1.45],[0.1,1.15],[0.1,0.95],[0.1,0.75],[0.1,0.6],[0.3,6.2],[0.3,4.9],[0.3,3.9],[0.3,3.1],[0.3,2.5],[0.3,2.0],[0.3,1.65],[0.3,1.32],[0.3,1.06],[0.3,0.86],[0.3,0.68],[0.3,0.5],[0.5,5.5],[0.5,4.3],[0.5,3.4],[0.5,2.8],[0.5,2.25],[0.5,1.8],[0.5,1.46],[0.5,1.17],[0.5,0.94],[0.5,0.74],[0.7,4.8],[0.7,3.8],[0.7,3.0],[0.7,2.45],[0.7,1.98],[0.7,1.6],[0.7,1.28],[0.7,1.02],[0.7,0.82],[0.7,0.64],[0.9,4.4],[0.9,3.5],[0.9,2.8],[0.9,2.25],[0.9,1.82],[0.9,1.46],[0.9,1.16],[0.9,0.92],[0.9,0.72],[1.1,3.6],[1.1,2.9],[1.1,2.3],[1.1,1.86],[1.1,1.5],[1.1,1.2],[1.1,0.95],[1.1,0.75],[1.3,3.2],[1.3,2.55],[1.3,2.05],[1.3,1.64],[1.3,1.3],[1.3,1.04],[1.3,0.8],[1.5,2.8],[1.5,2.25],[1.5,1.8],[1.5,1.45],[1.5,1.15],[1.5,0.9],[1.7,2.5],[1.7,2.0],[1.7,1.6],[1.7,1.28],[1.7,1.0],[1.9,2.2],[1.9,1.75],[1.9,1.4],[1.9,1.1],[0.0,7.8],[0.2,8.2],[0.4,7.4],[0.6,6.6],[0.8,6.9],[1.0,5.9],[0.0,0.38],[0.2,0.45],[0.4,0.52],[0.6,0.58],[0.8,0.55],[1.0,0.64],[1.2,0.7],
 [2.1,2.7],[2.1,1.85],[2.1,1.25],[2.4,3.3],[2.4,2.25],[2.4,1.5],[2.4,1.0],[2.7,3.0],[2.7,2.05],[2.7,1.4],[2.7,0.95],[3.0,2.6],[3.0,1.75],[3.0,1.2],[3.0,0.8],[3.3,3.1],[3.3,2.1],[3.3,1.45],[3.3,0.98],[3.6,2.7],[3.6,1.85],[3.6,1.25],[3.6,0.85],[3.9,2.35],[3.9,1.6],[3.9,1.05],[4.2,2.0],[4.2,1.35],[4.2,0.9],[4.5,1.75],[4.5,1.15],[4.8,1.5],[4.8,1.0],[5.1,1.3],[5.1,0.85],[2.2,4.5],[2.8,4.2],[3.4,4.0],[4.0,3.2],[4.6,2.5],[5.2,1.9],[2.5,0.65],[3.1,0.6],[3.7,0.62],[4.3,0.7],[4.9,0.65],
 [5.9,1.3],[6.1,0.95],[6.3,1.7],[6.5,1.2],[6.7,0.85],[6.9,1.35],[7.1,0.75],[7.1,1.9],[7.3,1.05],[7.5,1.6],[7.7,0.9],[7.9,1.4],[8.1,0.8],[6.3,0.62],[6.9,0.55],[7.5,0.65],[8.0,1.1],[6.6,2.2],[7.2,2.6],
 [12.8,0.5],[13.1,0.38],[13.3,0.3],[13.5,0.45],[13.7,0.34],[13.9,0.56],[14.1,0.26],[14.1,0.44],[14.3,0.33],[14.5,0.5],[14.7,0.29],[14.9,0.38],[13.6,0.68],[14.3,0.66],[13.2,0.24],[14.7,0.22],[14.0,0.2],
 [18.7,0.33],[19.1,0.28],[19.3,0.42],[19.5,0.21],[19.7,0.35],[19.9,0.26],[20.1,0.38],[20.1,0.24],[20.3,0.3],[20.5,0.45],[20.5,0.2],[20.7,0.34],[20.7,0.26],[20.9,0.4],[20.9,0.19],[21.1,0.3],[21.1,0.5],[21.3,0.23],[21.3,0.36],[21.5,0.27],[21.5,0.42],[21.7,0.2],[21.7,0.31],[21.9,0.46],[21.9,0.25],[22.1,0.35],[22.3,0.19],[22.3,0.28],[22.5,0.4],[22.7,0.22],[22.9,0.32],[23.1,0.27],[23.3,0.38],[23.5,0.2],[23.7,0.3],[20.2,0.15],[20.6,0.16],[21.0,0.17],[21.4,0.15],[21.8,0.16],[22.2,0.17],[20.8,0.6],[21.2,0.62],[21.6,0.58],[20.0,0.55],[22.4,0.55],[20.4,0.12],[21.8,0.11],
 [26.2,0.7],[26.6,0.9],[27.0,0.6],[27.4,1.1],[27.8,0.65],[28.2,0.9],[28.6,0.55],[29.0,1.0],[29.4,0.7],[29.8,1.3],[28.0,1.7],[28.6,1.2],[27.2,0.45],[29.2,0.5],
 [33.6,0.45],[34.1,0.55],[34.5,0.4],[34.9,0.6],[35.3,0.38],[35.7,0.5],[36.1,0.42],[36.5,0.6],[34.3,0.32],[35.5,0.28],
 [39.8,0.9],[40.1,1.15],[40.4,0.8],[40.7,1.35],[41.0,1.05],[41.3,1.55],[41.5,0.85],[41.7,1.3],[41.9,1.0],[42.1,1.7],[42.3,1.15],[42.5,0.75],[42.7,1.45],[42.9,0.95],[43.1,1.6],[43.3,1.0],[43.5,1.3],[43.7,0.75],[43.9,1.2],[44.1,0.85],[44.3,1.55],[44.5,0.9],[44.7,1.25],[44.9,0.7],[45.1,1.0],[45.3,1.4],[45.5,0.9],[40.6,2.0],[41.4,2.2],[42.2,2.5],[43.2,2.2],[44.2,1.9],[40.9,0.55],[41.9,0.6],[42.9,0.5],[43.9,0.55],[44.8,0.55],[42.6,3.0],[41.2,2.8],[43.6,2.5],
 [47.0,1.0],[47.3,1.3],[47.6,0.85],[47.9,1.45],[48.1,1.0],[48.5,1.2],[48.9,0.8],[49.1,1.4],[49.5,1.0],[49.9,1.15],[50.3,0.75],[50.7,1.3],[51.0,0.95],[51.5,0.9],[48.3,2.2],[49.3,2.0],[50.5,1.9],[48.7,0.6],[50.0,0.55],
 [54.9,0.52],[55.4,0.65],[55.9,0.48],[56.4,0.55],[56.9,0.42],[57.3,0.6],[57.8,0.5],[55.6,0.85],[57.0,0.75],[56.2,0.35],
 [60.8,0.38],[61.1,0.3],[61.4,0.46],[61.7,0.34],[61.9,0.24],[62.1,0.42],[62.3,0.36],[62.5,0.28],[62.7,0.44],[62.9,0.3],[63.1,0.38],[63.3,0.25],[63.5,0.45],[63.7,0.28],[63.9,0.36],[64.1,0.3],[64.3,0.48],[64.5,0.24],[64.7,0.36],[64.9,0.28],[65.2,0.4],[65.5,0.3],[62.0,0.58],[62.8,0.62],[63.6,0.65],[64.4,0.6],[62.4,0.19],[63.2,0.18],[64.0,0.19],[62.6,0.78],[63.4,0.82],
 [103.0,0.3],[103.6,0.38],[104.1,0.29],[104.5,0.34],[104.9,0.26],[105.3,0.42],[105.7,0.32],[106.1,0.27],[106.5,0.33],[104.3,0.5],[105.5,0.55],[104.7,0.21],[105.9,0.2],
 [145.0,0.3],[145.6,0.38],[146.1,0.29],[146.5,0.34],[146.9,0.26],[147.3,0.42],[147.7,0.32],[148.1,0.27],[148.6,0.33],[146.3,0.5],[147.5,0.55],[146.7,0.21],[147.9,0.2],
 [0.05,6.1],[0.05,4.6],[0.05,3.6],[0.05,2.9],[0.05,2.35],[0.05,1.9],[0.05,1.55],[0.05,1.25],[0.05,1.0],[0.05,0.8],[0.05,0.65],[0.25,5.0],[0.25,4.0],[0.25,3.2],[0.25,2.6],[0.25,2.1],[0.25,1.7],[0.25,1.38],[0.25,1.1],[0.25,0.88],[0.25,0.7],[0.25,0.55],[0.45,5.8],[0.45,4.5],[0.45,3.5],[0.45,2.75],[0.45,2.2],[0.45,1.75],[0.45,1.4],[0.45,1.12],[0.45,0.9],[0.45,0.72],[0.65,5.0],[0.65,3.9],[0.65,3.1],[0.65,2.5],[0.65,2.0],[0.65,1.6],[0.65,1.25],[0.65,1.0],[0.65,0.8],[0.85,4.6],[0.85,3.6],[0.85,2.85],[0.85,2.3],[0.85,1.85],[0.85,1.45],[0.85,1.15],[0.85,0.9],[1.05,4.2],[1.05,3.3],[1.05,2.6],[1.05,2.1],[1.05,1.7],[1.05,1.35],[1.05,1.08],[1.05,0.86],[1.25,3.8],[1.25,3.0],[1.25,2.4],[1.25,1.92],[1.25,1.55],[1.25,1.22],[1.25,0.96],[1.45,3.4],[1.45,2.7],[1.45,2.15],[1.45,1.72],[1.45,1.38],[1.45,1.1],[1.65,3.0],[1.65,2.4],[1.65,1.92],[1.65,1.52],[1.65,1.2],[1.85,2.7],[1.85,2.15],[1.85,1.7],[1.85,1.35],[0.15,7.5],[0.35,8.0],[0.55,7.0],[0.75,6.3],[0.95,5.4],[1.15,4.8],
 [2.05,2.9],[2.05,2.0],[2.05,1.35],[2.35,3.6],[2.35,2.45],[2.35,1.65],[2.35,1.1],[2.65,3.2],[2.65,2.2],[2.65,1.5],[2.65,1.0],[2.95,2.75],[2.95,1.9],[2.95,1.28],[3.25,3.4],[3.25,2.3],[3.25,1.6],[3.25,1.05],[3.55,2.95],[3.55,2.0],[3.55,1.35],[3.55,0.9],[3.85,2.6],[3.85,1.75],[3.85,1.15],[4.15,2.2],[4.15,1.5],[4.15,1.0],[4.45,1.9],[4.45,1.28],[4.75,1.65],[4.75,1.1],[5.05,1.4],[5.05,0.95],[5.35,1.2],
 [5.75,1.45],[6.05,1.1],[6.25,1.8],[6.45,1.3],[6.65,0.95],[6.85,1.55],[7.05,0.85],[7.25,1.25],[7.45,0.9],[7.65,1.45],[7.85,1.05],[8.05,0.72],[6.35,2.6],[7.15,2.3],
 [12.7,0.4],[12.95,0.3],[13.15,0.5],[13.35,0.38],[13.55,0.28],[13.75,0.44],[13.95,0.33],[14.15,0.48],[14.35,0.36],[14.55,0.26],[14.75,0.42],[14.95,0.3],[13.45,0.2],[14.25,0.19],[13.85,0.6],[14.45,0.75],
 [18.9,0.36],[19.15,0.3],[19.35,0.22],[19.55,0.4],[19.75,0.3],[19.95,0.23],[20.15,0.42],[20.35,0.34],[20.55,0.25],[20.75,0.38],[20.95,0.28],[21.15,0.21],[21.35,0.33],[21.55,0.24],[21.75,0.4],[21.95,0.3],[22.15,0.24],[22.35,0.36],[22.55,0.29],[22.75,0.34],[22.95,0.25],[23.2,0.36],[23.45,0.28],[20.25,0.5],[20.85,0.52],[21.45,0.55],[22.05,0.52],[22.65,0.48],[20.45,0.18],[21.05,0.2],[21.65,0.18],[22.25,0.2],[20.65,0.14],[21.25,0.14],[21.85,0.14],[21.0,0.105],[20.75,0.75],[21.35,0.68],
 [26.0,0.9],[26.35,0.75],[26.65,1.1],[26.95,0.85],[27.25,0.6],[27.55,1.2],[27.85,0.8],[28.15,1.3],[28.45,0.95],[28.75,0.7],[29.05,1.15],[29.35,0.85],[29.65,1.05],[29.95,0.75],[27.65,1.9],[28.55,1.8],[28.05,0.5],[28.95,0.45],
 [33.4,0.55],[33.8,0.42],[34.2,0.58],[34.6,0.46],[35.0,0.55],[35.4,0.44],[35.8,0.58],[36.2,0.46],[36.6,0.52],[34.8,0.3],[35.6,0.32],[35.2,0.75],[34.0,0.7],
 [39.7,1.1],[39.95,0.85],[40.15,1.25],[40.35,0.95],[40.55,1.45],[40.75,1.1],[40.95,0.8],[41.15,1.35],[41.35,1.0],[41.55,1.65],[41.75,1.1],[41.95,0.85],[42.15,1.25],[42.35,0.95],[42.55,1.55],[42.75,1.15],[42.95,0.85],[43.15,1.4],[43.35,1.05],[43.55,0.8],[43.75,1.3],[43.95,1.0],[44.15,1.6],[44.35,1.1],[44.55,0.8],[44.75,1.2],[44.95,0.95],[45.15,1.3],[45.35,0.75],[45.6,1.1],[40.45,1.85],[41.05,2.3],[41.65,2.0],[42.25,2.1],[42.85,1.9],[43.45,2.0],[44.05,1.75],[44.65,1.6],[40.25,0.65],[40.85,0.65],[41.45,0.62],[42.05,0.7],[42.65,0.6],[43.25,0.65],[43.85,0.62],[44.45,0.66],[45.05,0.62],
 [46.6,0.95],[46.95,1.2],[47.25,0.9],[47.55,1.35],[47.85,1.05],[48.15,1.55],[48.45,1.1],[48.75,0.85],[49.05,1.3],[49.35,0.95],[49.65,1.5],[49.95,1.1],[50.25,0.8],[50.55,1.2],[50.85,0.9],[51.2,1.05],[51.6,0.85],[48.0,0.65],[49.8,0.7],[48.6,1.8],[50.4,1.7],
 [54.6,0.55],[55.05,0.68],[55.45,0.5],[55.85,0.62],[56.25,0.48],[56.65,0.58],[57.05,0.44],[57.45,0.55],[57.85,0.46],[55.7,0.35],[56.8,0.95],
 [60.75,0.42],[61.05,0.36],[61.3,0.5],[61.55,0.32],[61.75,0.44],[61.95,0.3],[62.15,0.5],[62.35,0.26],[62.55,0.4],[62.75,0.32],[62.95,0.46],[63.15,0.3],[63.35,0.52],[63.55,0.26],[63.75,0.4],[63.95,0.3],[64.15,0.44],[64.35,0.27],[64.55,0.4],[64.75,0.32],[64.95,0.38],[65.25,0.26],[65.5,0.36],[62.25,0.65],[62.85,0.7],[63.45,0.72],[64.05,0.68],[62.45,0.2],[63.05,0.21],[63.65,0.2],[64.25,0.21],[62.65,0.17],[63.25,0.15],[63.85,0.16],
 [102.8,0.3],[103.3,0.36],[103.7,0.27],[104.15,0.32],[104.55,0.25],[104.95,0.4],[105.35,0.3],[105.75,0.36],[106.15,0.28],[106.55,0.31],[107.0,0.26],[104.35,0.6],[105.15,0.65],[105.95,0.5],[104.75,0.18],[105.55,0.19],
 [144.8,0.32],[145.3,0.38],[145.7,0.28],[146.15,0.34],[146.55,0.26],[146.95,0.42],[147.35,0.3],[147.75,0.36],[148.15,0.28],[148.55,0.3],[149.0,0.26],[146.35,0.6],[147.15,0.7],[147.95,0.5],[146.75,0.18],[147.55,0.17]
];

// ---- styling ----
var FONT = '"Liberation Sans", Arial, sans-serif';
var AXIS = '#333333';
var TICK_TXT = '#4d4d4d';
var POINT = 'rgba(95,158,160,0.7)';
var RED = '#e0302c';
var GREY_BAND = 'rgba(150,192,192,0.35)';
var PINK_BAND = 'rgba(255,125,125,0.4)';
var GRID_MAJOR = '#ebebeb';
var GRID_MINOR = '#f2f2f2';

var chart = echarts.init(document.getElementById('chart'));

function vLines(g, vals, w, color) {
  return {
    type: 'custom', xAxisIndex: g, yAxisIndex: g * 2, z: 1, silent: true,
    data: vals.map(function (v) { return [v, 1]; }),
    renderItem: function (params, api) {
      var cs = params.coordSys;
      var x = api.coord([api.value(0), 1])[0];
      return { type: 'line', shape: { x1: x, y1: cs.y, x2: x, y2: cs.y + cs.height },
               style: { stroke: color, lineWidth: w } };
    }
  };
}
function hLines(g, vals, w, color) {
  return {
    type: 'custom', xAxisIndex: g, yAxisIndex: g * 2, z: 1, silent: true,
    data: vals.map(function (v) { return [0, v]; }),
    renderItem: function (params, api) {
      var cs = params.coordSys;
      var y = api.coord([0, api.value(1)])[1];
      return { type: 'line', shape: { x1: cs.x, y1: y, x2: cs.x + cs.width, y2: y },
               style: { stroke: color, lineWidth: w } };
    }
  };
}
// ribbon of predicted percentile CI
function band(g, bins, lo, hi, color) {
  return {
    type: 'custom', xAxisIndex: g, yAxisIndex: g * 2, z: 2, silent: true, clip: true,
    data: bins.map(function (d, i) { return [d, lo[i], hi[i]]; }),
    encode: { x: 0, y: [1, 2] },
    renderItem: function (params, api) {
      if (params.dataIndex !== 0) return null;
      var upper = [], lower = [];
      for (var i = 0; i < bins.length; i++) {
        upper.push(api.coord([bins[i], hi[i]]));
        lower.unshift(api.coord([bins[i], lo[i]]));
      }
      return { type: 'polygon', shape: { points: upper.concat(lower) }, style: { fill: color } };
    }
  };
}
function pctLine(g, bins, vals, dashed) {
  return {
    type: 'line', xAxisIndex: g, yAxisIndex: g * 2, z: 4, silent: true, clip: true,
    data: bins.map(function (d, i) { return [d, vals[i]]; }),
    symbol: 'none', showSymbol: false,
    lineStyle: { color: RED, width: 2, type: dashed ? [8, 6] : 'solid' }
  };
}
function obs(g, pts) {
  return { type: 'scatter', xAxisIndex: g, yAxisIndex: g * 2, z: 3, silent: true,
           data: pts, symbolSize: 11, itemStyle: { color: POINT } };
}

function xAxisOf(g, fs, nameFs, nameGap) {
  return {
    type: 'value', gridIndex: g, min: X_MIN, max: X_MAX, z: 10,
    axisLine: { show: true, onZero: false, lineStyle: { color: AXIS, width: 7 } },
    axisTick: { show: true, customValues: xTicks, length: 19, lineStyle: { color: AXIS, width: 5 } },
    axisLabel: { customValues: xTicks, margin: 25, fontSize: fs, color: TICK_TXT, fontFamily: FONT },
    splitLine: { show: false },
    name: 'Time since first dose (days)', nameLocation: 'middle', nameGap: nameGap,
    nameTextStyle: { fontSize: nameFs, color: '#000', fontFamily: FONT }
  };
}
function logAxisOf(g, range) {
  return { type: 'log', logBase: 10, gridIndex: g, show: false,
           min: Math.pow(10, range[0]), max: Math.pow(10, range[1]) };
}
// labelled companion axis in log10 units, same extent as the hidden log axis
function labelAxisOf(g, range, ticks, digits, fs, margin, name, nameFs, nameGap) {
  var exps = ticks.map(function (t) { return Math.log10(t); });
  return {
    type: 'value', gridIndex: g, position: 'left', min: range[0], max: range[1], z: 10,
    axisLine: { show: true, onZero: false, lineStyle: { color: AXIS, width: 4.5 } },
    axisTick: { show: true, customValues: exps, length: 17, lineStyle: { color: AXIS, width: 5 } },
    axisLabel: { customValues: exps, margin: margin, fontSize: fs, color: TICK_TXT, fontFamily: FONT,
                 formatter: function (v) { return Math.pow(10, v).toFixed(digits); } },
    splitLine: { show: false },
    name: name, nameLocation: 'middle', nameRotate: 90, nameGap: nameGap,
    nameTextStyle: { fontSize: nameFs, lineHeight: 48, color: '#000', fontFamily: FONT }
  };
}

function panel(g, bins, o5, o50, o95, p5lo, p5hi, p50lo, p50hi, p95lo, p95hi, pts, yTicks, yMinor) {
  return [
    vLines(g, xMinor, 4, GRID_MINOR),
    hLines(g, yMinor, 4, GRID_MINOR),
    vLines(g, xTicks, 7, GRID_MAJOR),
    hLines(g, yTicks, 7, GRID_MAJOR),
    band(g, bins, p5lo, p5hi, GREY_BAND),
    band(g, bins, p95lo, p95hi, GREY_BAND),
    band(g, bins, p50lo, p50hi, PINK_BAND),
    obs(g, pts),
    pctLine(g, bins, o5, true),
    pctLine(g, bins, o95, true),
    pctLine(g, bins, o50, false)
  ];
}

function txt(x, y, s, fs) {
  return { type: 'text', x: x, y: y, z: 20,
           style: { text: s, fontSize: fs, fontFamily: FONT, fill: '#000', verticalAlign: 'middle' } };
}
function seg(x1, x2, y, dashed) {
  return { type: 'line', z: 20, shape: { x1: x1, y1: y, x2: x2, y2: y },
           style: { stroke: RED, lineWidth: 2.5, lineDash: dashed ? [6, 5] : null } };
}
function box(x, fill) {
  return { type: 'rect', z: 20, shape: { x: x, y: 170, width: 62, height: 38 }, style: { fill: fill } };
}

var sectionStyle = { fontSize: 46, fontWeight: 'bold', color: '#1e88d2', fontFamily: FONT };

chart.setOption({
  animation: false,
  backgroundColor: '#fff',
  title: [
    { text: 'Dato-DXd', left: 46, top: 52, padding: 0, textStyle: sectionStyle },
    { text: 'DXd', left: 46, top: 1429, padding: 0, textStyle: sectionStyle },
    { text: 'References', left: 28, top: 2550, padding: 0, textStyle: sectionStyle }
  ],
  graphic: [
    { type: 'rect', shape: { x: 0, y: 0, width: 2220, height: 6 }, style: { fill: '#5cbaf0' } },
    { type: 'circle', z: 20, shape: { cx: 492, cy: 77, r: 11 }, style: { fill: 'rgba(95,158,160,0.45)' } },
    txt(566, 78, 'Observation', 45),
    txt(903, 77, 'Observed percentiles', 55),
    seg(1458, 1508, 74, true), txt(1543, 75, '5%', 36),
    seg(1631, 1685, 74, false), txt(1720, 75, '50%', 36),
    seg(1824, 1876, 74, true), txt(1914, 75, '95%', 36),
    txt(786, 192, '90% CI of predicted percentiles', 55),
    box(1576, '#dde8e8'), txt(1668, 190, '5%', 36),
    box(1751, '#ffc9c9'), txt(1841, 190, '50%', 36),
    box(1944, '#dde8e8'), txt(2035, 190, '95%', 36)
  ],
  grid: [
    { left: 671, top: 284, width: 1552, height: 1009, show: true, z: 10, outerBoundsMode: 'none',
      borderColor: AXIS, borderWidth: 3, backgroundColor: 'transparent' },
    { left: 622, top: 1468, width: 1610, height: 979, show: true, z: 10, outerBoundsMode: 'none',
      borderColor: AXIS, borderWidth: 3, backgroundColor: 'transparent' }
  ],
  xAxis: [xAxisOf(0, 51, 41, 87), xAxisOf(1, 48, 40, 85)],
  yAxis: [
    logAxisOf(0, datoRange),
    labelAxisOf(0, datoRange, datoTicks, 2, 51, 36,
      'Dato-DXd prediction-corrected\nconcentration (\u00b5g/mL)', 41, 273),
    logAxisOf(1, dxdRange),
    labelAxisOf(1, dxdRange, dxdTicks, 1, 48, 32,
      'DXd prediction-corrected\nconcentration (ng/mL)', 40, 162)
  ],
  series: [].concat(
    panel(0, datoBins, datoObs5, datoObs50, datoObs95, datoPi5Lo, datoPi5Hi,
          datoPi50Lo, datoPi50Hi, datoPi95Lo, datoPi95Hi, datoPoints.concat(datoCore), datoTicks, datoMinor),
    panel(1, dxdBins, dxdObs5, dxdObs50, dxdObs95, dxdPi5Lo, dxdPi5Hi,
          dxdPi50Lo, dxdPi50Hi, dxdPi95Lo, dxdPi95Hi, dxdPoints.concat(dxdCore), dxdTicks, dxdMinor)
  )
});
</script>
</body>
</html>
